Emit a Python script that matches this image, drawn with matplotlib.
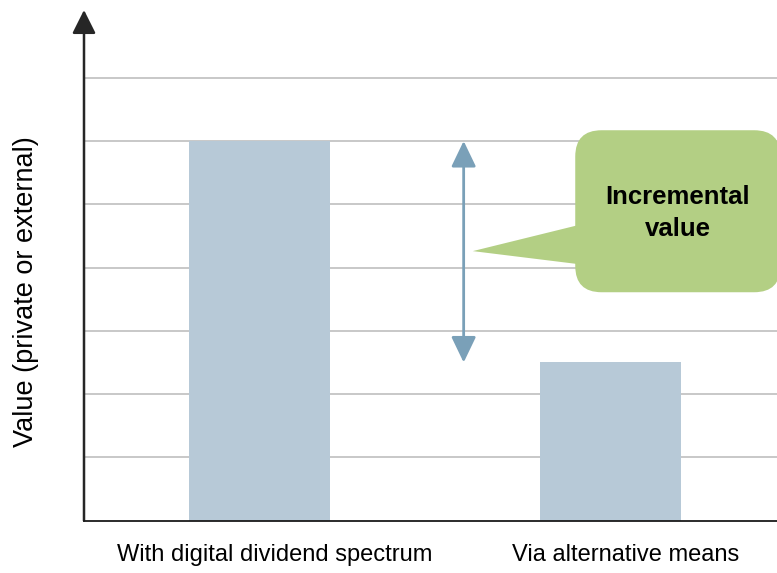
import numpy as np
import matplotlib
matplotlib.use("Agg")
import matplotlib.pyplot as plt
import matplotlib.transforms as mtransforms
from matplotlib.patches import FancyBboxPatch, Polygon

plt.rcParams['font.family'] = ['Liberation Sans', 'DejaVu Sans']

# value with the spectrum vs. value reached some other way
categories = ['With digital dividend spectrum', 'Via alternative means']
values = [6.0, 2.5]
grid_levels = [1, 2, 3, 4, 5, 6, 7]
y_label = 'Value (private or external)'
callout_text = 'Incremental\nvalue'

bar_color = '#b7c9d7'
arrow_color = '#7aa0b8'
callout_color = '#b3cf84'
grid_color = '#c8c8c8'

fig = plt.figure(figsize=(7.77, 5.73), dpi=100)
ax = fig.add_axes([84 / 777, 1 - 520.7 / 573, 1 - 84 / 777, 510.7 / 573])

x = np.arange(len(categories))
ax.bar(x, values, width=0.4, color=bar_color, zorder=2)
ax.set_xlim(-0.5, 1.475)
ax.set_ylim(0, 8.07)

for g in grid_levels:
    ax.axhline(g, color=grid_color, lw=1.4, zorder=1)

for s in ['top', 'right', 'left']:
    ax.spines[s].set_visible(False)
ax.spines['bottom'].set_color('#1a1a1a')
ax.spines['bottom'].set_linewidth(1.3)
ax.spines['bottom'].set_zorder(3)

# y axis drawn as an arrow
ax.annotate('', xy=(0, 1), xytext=(0, 0), xycoords='axes fraction',
            arrowprops=dict(arrowstyle='-|>,head_length=1.0,head_width=0.5',
                            mutation_scale=14.4, color='#262626', lw=1.8,
                            shrinkA=0, shrinkB=0), annotation_clip=False)

ax.set_yticks([])
ax.set_xticks(x, categories, fontsize=17)
ax.tick_params(axis='x', length=0, pad=17)
shift = mtransforms.ScaledTranslation(0.15, 0, fig.dpi_scale_trans)
for lbl in ax.get_xticklabels():
    lbl.set_transform(lbl.get_transform() + shift)

ax.set_ylabel(y_label, fontsize=19.5, va='center')
ax.yaxis.set_label_coords((26 - 84) / 693, 0.448)

# double arrow showing the gap between the two bars
arrow_x = 0.582
ax.annotate('', xy=(arrow_x, values[0]), xytext=(arrow_x, values[1]),
            arrowprops=dict(arrowstyle='<|-|>,head_length=1.0,head_width=0.48',
                            mutation_scale=15.8, color=arrow_color, lw=2,
                            shrinkA=0, shrinkB=0), zorder=4)

# speech bubble callout
mid = (values[0] + values[1]) / 2
bx0, bx1 = 0.90, 1.485
by0, by1 = 3.61, 6.17
p0 = ax.transData.transform((0, 0))
p1 = ax.transData.transform((1, 1))
aspect = (p1[0] - p0[0]) / (p1[1] - p0[1])
box = FancyBboxPatch((bx0, by0), bx1 - bx0, by1 - by0,
                     boxstyle='round,pad=0,rounding_size=0.075',
                     mutation_aspect=aspect, fc=callout_color, ec='none',
                     zorder=5, clip_on=False)
ax.add_patch(box)
tail = Polygon([(bx0 + 0.03, 4.70), (0.608, mid + 0.01), (bx0 + 0.03, 4.04)],
               closed=True, fc=callout_color, ec='none', zorder=5, clip_on=False)
ax.add_patch(tail)
ax.text((bx0 + bx1) / 2, 4.86, callout_text, ha='center', va='center',
        fontsize=18.5, fontweight='bold', linespacing=1.42, zorder=6)

fig.savefig('out.png', dpi=100)
